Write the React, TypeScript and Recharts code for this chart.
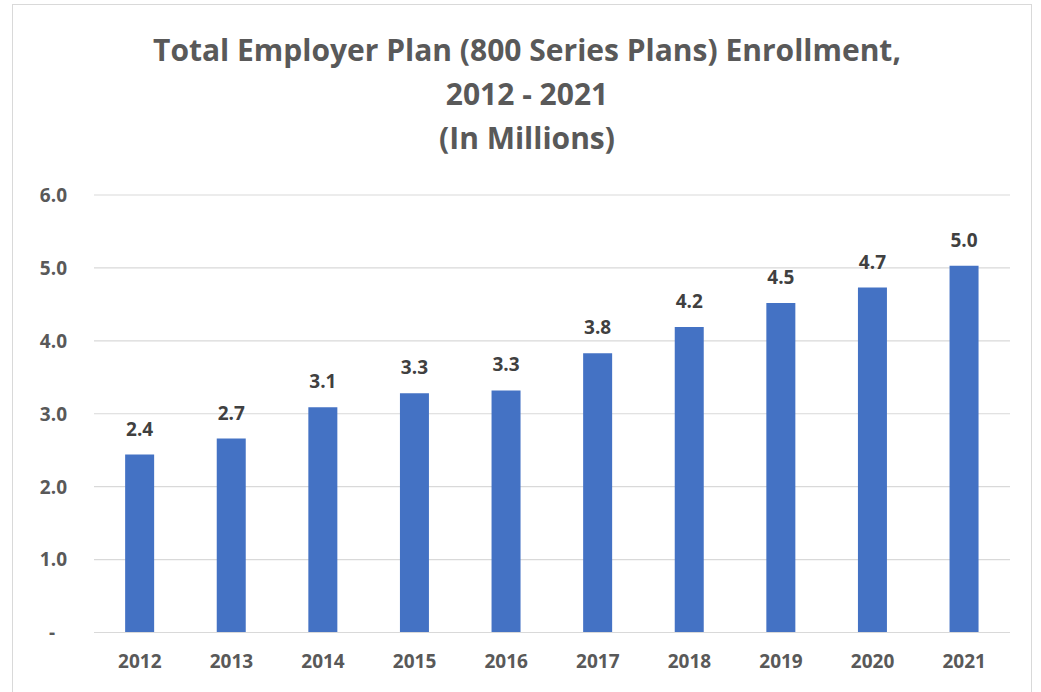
import { BarChart, Bar, XAxis, YAxis, CartesianGrid, LabelList } from 'recharts';

const years = ['2012', '2013', '2014', '2015', '2016', '2017', '2018', '2019', '2020', '2021'];
const enrollment = [2.44, 2.66, 3.09, 3.28, 3.32, 3.83, 4.19, 4.52, 4.73, 5.03];
const yTicks = [0, 1, 2, 3, 4, 5, 6];
const titleLines = ['Total Employer Plan (800 Series Plans) Enrollment,', '2012 - 2021', '(In Millions)'];

const data = years.map((year, i) => ({ year, value: enrollment[i] }));

const FONT = '"Open Sans", sans-serif';

function YTick({ x, y, payload }: any) {
  const zero = payload.value === 0;
  return (
    <text
      x={zero ? x - 12 : x}
      y={y}
      dy="0.36em"
      textAnchor="end"
      fill="#595959"
      fontSize={19}
      fontWeight={700}
      fontFamily={FONT}
    >
      {zero ? '-' : Number(payload.value).toFixed(1)}
    </text>
  );
}

export default function App() {
  return (
    <div style={{ position: 'absolute', left: 0, top: 0, width: 1041, height: 692, background: '#fff', overflow: 'hidden' }}>
      <div
        style={{
          position: 'absolute',
          left: 12,
          top: 4,
          width: 1020,
          height: 700,
          border: '1.5px solid #d9d9d9',
          boxSizing: 'border-box',
        }}
      />
      {titleLines.map((line, i) => (
        <div
          key={i}
          style={{
            position: 'absolute',
            left: 0,
            width: 1054,
            top: 30 + i * 44,
            textAlign: 'center',
            fontFamily: FONT,
            fontWeight: 700,
            fontSize: 30,
            lineHeight: '40px',
            color: '#595959',
          }}
        >
          {line}
        </div>
      ))}
      <div style={{ position: 'absolute', left: 0, top: 0 }}>
        <BarChart
          width={1041}
          height={692}
          data={data}
          barCategoryGap="34%"
          margin={{ top: 195, right: 31, bottom: 29.5, left: 34 }}
        >
          <CartesianGrid vertical={false} stroke="#d9d9d9" strokeWidth={1.2} />
          <XAxis
            dataKey="year"
            axisLine={{ stroke: '#d9d9d9', strokeWidth: 1.2 }}
            tickLine={false}
            tickMargin={16}
            tick={{ fill: '#595959', fontSize: 19, fontWeight: 700, fontFamily: FONT }}
          />
          <YAxis
            width={60}
            domain={[0, 6]}
            ticks={yTicks}
            axisLine={false}
            tickLine={false}
            tickMargin={21}
            tick={<YTick />}
          />
          <Bar dataKey="value" fill="#4472c4" isAnimationActive={false}>
            <LabelList
              dataKey="value"
              position="top"
              offset={19}
              formatter={(v: any) => Number(v).toFixed(1)}
              fill="#404040"
              fontSize={19}
              fontWeight={700}
              fontFamily={FONT}
            />
          </Bar>
        </BarChart>
      </div>
    </div>
  );
}
